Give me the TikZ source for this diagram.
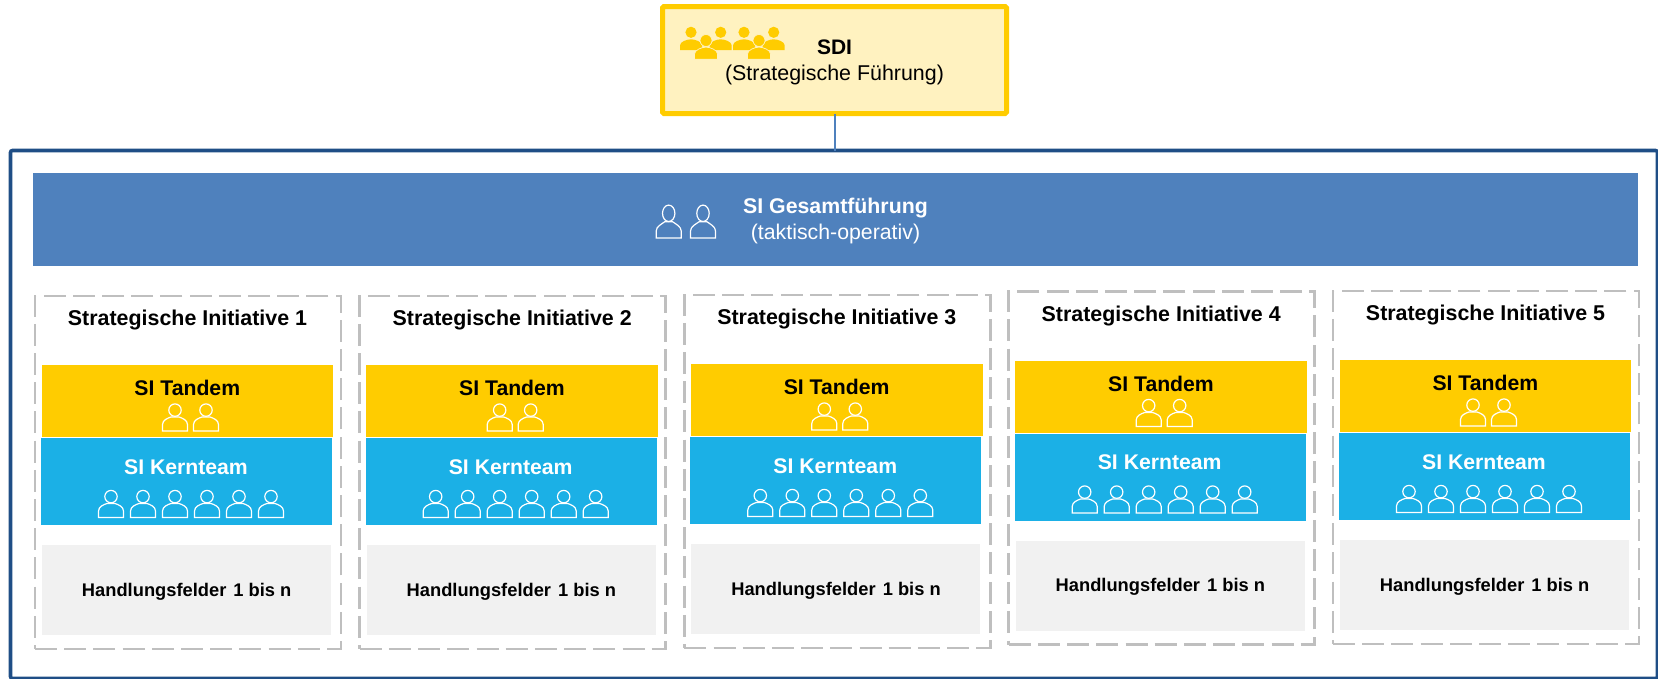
\documentclass[tikz,border=0pt]{standalone}
\usepackage{fontspec}
\setmainfont{Liberation Sans}
\definecolor{frameblue}{HTML}{1F4E86}
\definecolor{barblue}{HTML}{4F81BD}
\definecolor{gold}{HTML}{FFCC00}
\definecolor{paleyellow}{HTML}{FFF2C0}
\definecolor{kernblue}{HTML}{1BB0E6}
\definecolor{fieldgrey}{HTML}{F1F1F1}
\definecolor{dashgrey}{HTML}{BFBFBF}
\newcommand{\fs}[1]{\fontsize{#1}{#1}\selectfont}
\tikzset{
  box/.style={rectangle,inner sep=0pt,outer sep=0pt,align=center},
  lbl/.style={inner sep=0pt,outer sep=0pt,align=center,anchor=center},
  personline/.style={draw=white,line width=1.2pt,fill=none},
  man/.pic={
    \draw[personline] (0,6.6) circle (6.2);
    \draw[personline] (-12.5,27.5) -- (-12.5,21) .. controls (-12.5,16.5) and (-7,14.5) .. (-4,13.5)
       -- (4,13.5) .. controls (7,14.5) and (12.5,16.5) .. (12.5,21) -- (12.5,27.5) -- cycle;
  },
  ovalman/.pic={
    \draw[personline] (0,8.3) ellipse (6.2 and 8.2);
    \draw[personline] (-12.5,33) -- (-12.5,26) .. controls (-12.5,21.5) and (-7,19) .. (-4,16.8)
       -- (4,16.8) .. controls (7,19) and (12.5,21.5) .. (12.5,26) -- (12.5,33) -- cycle;
  },
  solidman/.pic={
    \fill[gold] (0,0) circle (5.6);
    \fill[gold] (-11,17.7) -- (-11,13) .. controls (-11,9.5) and (-4,7) .. (0,7)
      .. controls (4,7) and (11,9.5) .. (11,13) -- (11,17.7) -- cycle;
  },
  frontman/.pic={
    \filldraw[gold,draw=paleyellow,line width=0.7pt] (0,0) circle (6);
    \filldraw[gold,draw=paleyellow,line width=0.7pt] (-11.5,18.7) -- (-11.5,13.5) .. controls (-11.5,9.5) and (-4,6.6) .. (0,6.6)
      .. controls (4,6.6) and (11.5,9.5) .. (11.5,13.5) -- (11.5,18.7) -- cycle;
  },
}
\begin{document}
\begin{tikzpicture}[x=1pt,y=-1pt]
\useasboundingbox (0,0) rectangle (1658,678);
\begin{scope}
\clip (0,0) rectangle (1658,678);
\node[box,draw=frameblue,line width=3.6pt,rounded corners=2pt,minimum width=1647pt,minimum height=528pt] (frame) at (834,414.5) {};
\end{scope}
\node[box,draw=gold,fill=paleyellow,line width=5pt,rounded corners=1.5pt,minimum width=344pt,minimum height=107pt] (sdi) at (834.5,60) {};
\draw[barblue,line width=2pt] (sdi.south) -- (sdi.south |- frame.north);
\node[lbl,font=\fs{21}\bfseries] (sditext) at (834.5,47.5) {SDI};
\node[lbl,font=\fs{21.4}] (sdisub) at (834.5,75) {(Strategische Führung)};
\foreach \gx in {0,53}{
  \begin{scope}[shift={(\gx,0)}]
    \pic at (691,32.3) {solidman};
    \pic at (720.7,32.3) {solidman};
    \pic at (706,40.5) {frontman};
  \end{scope}
}
\node[box,fill=barblue,minimum width=1605pt,minimum height=93pt] (bar) at (835.5,219.5) {};
\node[lbl,font=\fs{21.3}\bfseries,text=white] (bartitle) at (835.5,208.5) {SI Gesamtführung};
\node[lbl,font=\fs{21.3},text=white] (barsub) at (835.5,234) {(taktisch-operativ)};
\pic at (668.7,205) {ovalman};
\pic at (703,205) {ovalman};
\foreach \i/\dx/\dy in {1/0/0,2/324.7/0,3/649.3/-1,4/973.7/-4.5,5/1298/-5}{
  \begin{scope}[shift={(\dx,\dy)}]
    \node[box,draw=dashgrey,line width=2.6pt,dash pattern=on 22pt off 7.2pt,minimum width=306pt,minimum height=353pt] (init\i) at (188,472.5) {};
    \node[lbl,font=\fs{21.4}\bfseries] (title\i) at (187.5,320.5) {Strategische Initiative \i};
    \node[box,fill=gold,minimum width=291.5pt,minimum height=72pt] (tandem\i) at (187.5,401) {};
    \node[lbl,font=\fs{21.2}\bfseries] (tandemtext\i) at (187.3,388) {SI Tandem};
    \node[box,fill=kernblue,minimum width=291pt,minimum height=87pt] (kern\i) at (186.5,481.5) {};
    \node[lbl,font=\fs{21.2}\bfseries,text=white] (kerntext\i) at (186,467) {SI Kernteam};
    \node[box,fill=fieldgrey,minimum width=289pt,minimum height=90pt] (field\i) at (186.5,590) {};
    \node[lbl,font=\fs{18.3}\bfseries] (fieldtext\i) at (186.7,591.5) {Handlungsfelder\hspace{2pt} 1 bis n};
    \foreach \px in {175,206}{\pic at (\px,403.5) {man};}
    \foreach \px in {111,143,175,207,239,271}{\pic at (\px,490) {man};}
  \end{scope}
}
\end{tikzpicture}
\end{document}
